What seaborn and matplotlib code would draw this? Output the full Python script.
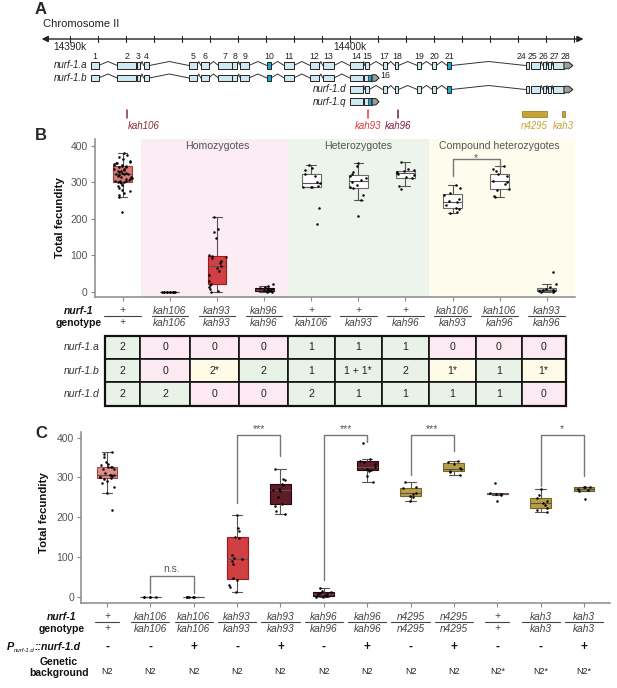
import numpy as np
import pandas as pd
import matplotlib
matplotlib.use("Agg")
import matplotlib.pyplot as plt
import seaborn as sns
from matplotlib.patches import Rectangle, Polygon, FancyArrowPatch
from matplotlib.transforms import blended_transform_factory

# ======================= DATA =======================
# ---- Panel A: nurf-1 gene model on chromosome II (positions in kb) ----
chrom_ticks_kb = list(range(14390, 14409))
chrom_tick_labels = {14390: "14390k", 14400: "14400k"}
chrom_span_kb = (14389.0, 14408.35)

exon_names = ["1", "2", "3", "4", "5", "6", "7", "8", "9", "10", "11", "12", "13",
              "14", "15", "17", "18", "19", "20", "21", "24", "25", "26", "27", "28"]
exon_start = [14390.75, 14391.70, 14392.40, 14392.64, 14394.26, 14394.68, 14395.31,
              14395.81, 14396.09, 14397.04, 14397.66, 14398.58, 14399.04, 14400.00,
              14400.53, 14401.18, 14401.61, 14402.41, 14402.95, 14403.48, 14406.28,
              14406.46, 14406.89, 14407.08, 14407.26]
exon_end = [14391.03, 14392.36, 14392.52, 14392.85, 14394.54, 14394.96, 14395.78,
            14395.98, 14396.40, 14397.19, 14398.00, 14398.90, 14399.44, 14400.48,
            14400.70, 14401.32, 14401.74, 14402.53, 14403.09, 14403.63, 14406.42,
            14406.80, 14407.01, 14407.20, 14407.65]
# where the exon numbers are printed (spread where exons are crowded)
exon_label_kb = [14390.89, 14392.03, 14392.46, 14392.75, 14394.40, 14394.82, 14395.55,
                 14395.90, 14396.25, 14397.12, 14397.83, 14398.74, 14399.24, 14400.22,
                 14400.62, 14401.25, 14401.68, 14402.47, 14403.02, 14403.56, 14406.13,
                 14406.53, 14406.92, 14407.30, 14407.69]
exon_blue = ["10", "21"]
exon15_alt = (14400.51, 14400.79)          # exon 15 of nurf-1.b / nurf-1.q
exon15_alt_blue = (14400.65, 14400.76)
exon16 = (14400.80, 14400.93, 14401.05)    # start, body end, tip
utr28 = (14407.65, 14407.83, 14407.97)     # start, body end, tip

isoform_names = ["nurf-1.a", "nurf-1.b", "nurf-1.d", "nurf-1.q"]
isoform_exons = [
    exon_names,
    exon_names[:14] + ["15b", "16"],
    exon_names[13:],
    ["14", "15b", "16"],
]

allele_names = ["kah106", "kah93", "kah96", "n4295", "kah3"]
allele_start = [14392.04, 14400.65, 14401.73, 14406.14, 14407.58]
allele_end = [14392.04, 14400.65, 14401.73, 14407.05, 14407.69]
allele_colors = ["#8e2a3a", "#e8343c", "#7d1d3c", "#c4a535", "#c4a535"]

# ---- Panel B: total fecundity by nurf-1 genotype ----
b_top = ["+", "kah106", "kah93", "kah96", "+", "+", "+", "kah106", "kah106", "kah93"]
b_bot = ["+", "kah106", "kah93", "kah96", "kah106", "kah93", "kah96", "kah93", "kah96", "kah96"]
b_values = [
    [380, 375, 370, 365, 360, 356, 354, 352, 350, 348, 347, 346, 345, 343, 341, 338, 336,
     334, 332, 330, 328, 326, 325, 324, 323, 322, 320, 318, 316, 314, 312, 310, 308, 306,
     305, 304, 303, 302, 301, 300, 298, 294, 290, 285, 280, 275, 270, 265, 260, 218],
    [0, 0, 0, 0, 0, 0, 0, 0, 0, 0, 0, 0],
    [205, 172, 165, 148, 100, 99, 96, 92, 85, 78, 70, 65, 58, 45, 30, 22, 18, 12, 8, 2, 0],
    [22, 15, 12, 10, 9, 8, 6, 5, 4, 3, 2, 1, 0, 0],
    [347, 340, 335, 322, 318, 300, 297, 290, 288, 287, 286, 230, 187],
    [352, 345, 328, 322, 318, 312, 306, 300, 292, 288, 285, 265, 251, 207],
    [356, 336, 333, 331, 328, 326, 324, 320, 314, 311, 290, 283],
    [292, 285, 272, 265, 255, 248, 245, 238, 230, 226, 220, 215],
    [344, 338, 330, 322, 318, 305, 300, 295, 283, 278, 263, 260],
    [55, 20, 12, 8, 5, 4, 2, 1, 0, 0],
]
b_fill = ["#ea6a64", "#eeeeee", "#e8282c", "#6c1022", "#ffffff", "#ffffff", "#ffffff",
          "#ffffff", "#ffffff", "#b5b5b5"]
b_edge = ["#a04040", "#777777", "#9e1a1d", "#2b0509", "#6a6a6a", "#6a6a6a", "#6a6a6a",
          "#6a6a6a", "#6a6a6a", "#6a6a6a"]
region_labels = ["Homozygotes", "Heterozygotes", "Compound heterozygotes"]
region_members = [[1, 2, 3], [4, 5, 6], [7, 8, 9]]
region_start = [0.38, 3.5, 6.5]
region_end = [3.5, 6.5, 9.6]
region_colors = ["#fcecf3", "#edf4ec", "#fefcec"]
b_sig = [(7, 8, "*", 364, 317, 343)]   # left, right, label, bar height, left leg end, right leg end

# copy number table under panel B
table_rows = ["nurf-1.a", "nurf-1.b", "nurf-1.d"]
table_vals = [
    ["2", "0", "0", "0", "1", "1", "1", "0", "0", "0"],
    ["2", "0", "2*", "2", "1", "1 + 1*", "2", "1*", "1", "1*"],
    ["2", "2", "0", "0", "2", "1", "1", "1", "1", "0"],
]
table_col_edges = [-0.37, 0.37, 1.43, 2.46, 3.5, 4.5, 5.5, 6.5, 7.5, 8.47, 9.4]
cell_green, cell_pink, cell_yellow = "#e9f2e6", "#fce9f1", "#fefce6"

# ---- Panel C: rescue with Pnurf-1.d::nurf-1.d ----
c_top = ["+", "kah106", "kah106", "kah93", "kah93", "kah96", "kah96", "n4295", "n4295", "+", "kah3", "kah3"]
c_bot = ["+", "kah106", "kah106", "kah93", "kah93", "kah96", "kah96", "n4295", "n4295", "+", "kah3", "kah3"]
c_transgene = ["-", "-", "+", "-", "+", "-", "+", "-", "+", "-", "-", "+"]
c_background = ["N2", "N2", "N2", "N2", "N2", "N2", "N2", "N2", "N2", "N2*", "N2*", "N2*"]
c_values = [
    [365, 358, 352, 340, 335, 330, 327, 326, 325, 322, 320, 306, 310, 307, 305, 303, 302,
     300, 298, 295, 290, 287, 275, 262, 218],
    [0, 0, 0, 0, 0],
    [0, 0, 0, 0, 0, 0],
    [205, 173, 165, 150, 148, 105, 98, 95, 90, 82, 47, 42, 30, 25, 13],
    [321, 297, 293, 283, 280, 270, 268, 265, 250, 232, 228, 215, 207],
    [22, 15, 12, 10, 8, 6, 5, 3, 2, 0, 0],
    [386, 346, 342, 340, 333, 327, 322, 319, 316, 303, 288],
    [288, 276, 274, 262, 258, 254, 252, 240],
    [341, 338, 335, 324, 320, 316, 314, 307],
    [287, 260, 259, 258, 257, 240],
    [272, 255, 248, 240, 235, 230, 222, 218, 212],
    [277, 276, 275, 270, 268, 266, 245],
]
c_fill = ["#ee7e77", "#eeeeee", "#eeeeee", "#e8282c", "#6c1022", "#6c1022", "#6c1022",
          "#c9aa36", "#c9aa36", "#a86a6a", "#c9aa36", "#b39a3a"]
c_edge = ["#a04a4a", "#777777", "#777777", "#9e1a1d", "#2b0509", "#2b0509", "#2b0509",
          "#7a6420", "#7a6420", "#8a4f4f", "#7a6420", "#6f5e22"]
c_sig = [(1, 2, "n.s.", 53, 10, 10), (3, 4, "***", 407, 235, 355), (5, 6, "***", 407, 43, 388),
         (7, 8, "***", 407, 305, 367), (10, 11, "*", 407, 278, 303)]

# ======================= FIGURE =======================
sns.set_theme(style="white")
plt.rcParams["font.family"] = ["Liberation Sans", "DejaVu Sans"]
np.random.seed(3)

W, H = 617, 688
fig = plt.figure(figsize=(W / 100, H / 100), dpi=100)
fig.patch.set_facecolor("white")


def fx(p):
    return p / W


def fy(p):
    return 1 - p / H


def add_ax(x0, y0, x1, y1):
    return fig.add_axes([x0 / W, 1 - y1 / H, (x1 - x0) / W, (y1 - y0) / H])


GREY = "#555555"

# ----------------------- Panel A -----------------------
fig.text(fx(35), fy(10), "A", fontsize=12, fontweight="bold", va="center", ha="left")
fig.text(fx(43), fy(24), "Chromosome II", fontsize=8, va="center", ha="left", color="#222")

axA = add_ax(0, 0, W, 135)
axA.set_xlim(14390 + (0 - 69.7) / 28.0, 14390 + (W - 69.7) / 28.0)
axA.set_ylim(135, 0)
axA.axis("off")

y_chr = 39
axA.add_patch(FancyArrowPatch((chrom_span_kb[0], y_chr), (chrom_span_kb[1], y_chr),
                              arrowstyle="<|-|>", mutation_scale=9, color="#222", lw=1.0,
                              shrinkA=0, shrinkB=0))
for t in chrom_ticks_kb:
    axA.plot([t, t], [y_chr - 3, y_chr + 3], color="#222", lw=0.8)
    if t in chrom_tick_labels:
        axA.text(t, 46.8, chrom_tick_labels[t], ha="center", va="center", fontsize=7.2, color="#222")

for name, xl in zip(exon_names, exon_label_kb):
    axA.text(xl, 56.5, name, ha="center", va="center", fontsize=6.3, color="#222")

LIGHT = "#cfe9f2"
BLUE = "#1ea4cf"
EDGE = "#222222"
row_y = [65.5, 78, 89.5, 101.7]
hb = 6.5


def pentagon(x0, x1, tip, y, fc):
    return Polygon([(x0, y - hb / 2), (x1, y - hb / 2), (tip, y), (x1, y + hb / 2), (x0, y + hb / 2)],
                   closed=True, fc=fc, ec=EDGE, lw=0.7, zorder=3)


for iso, exons, y in zip(isoform_names, isoform_exons, row_y):
    segs = []
    for e in exons:
        if e == "15b":
            segs.append(exon15_alt)
        elif e == "16":
            segs.append((exon16[0], exon16[2]))
        else:
            i = exon_names.index(e)
            segs.append((exon_start[i], utr28[2] if e == "28" else exon_end[i]))
    for (s0, e0), (s1, e1) in zip(segs[:-1], segs[1:]):
        if s1 - e0 > 0.05:
            axA.plot([e0, (e0 + s1) / 2, s1], [y, y - 4, y], color="#333", lw=0.7, zorder=1)
    for e, (s, en) in zip(exons, segs):
        if e == "16":
            axA.add_patch(pentagon(exon16[0], exon16[1], exon16[2], y, "#9c9c9c"))
        elif e == "15b":
            axA.add_patch(Rectangle((s, y - hb / 2), en - s, hb, fc=LIGHT, ec=EDGE, lw=0.7, zorder=3))
            axA.add_patch(Rectangle((exon15_alt_blue[0], y - hb / 2), exon15_alt_blue[1] - exon15_alt_blue[0],
                                    hb, fc=BLUE, ec=EDGE, lw=0.5, zorder=3))
        elif e == "28":
            i = exon_names.index(e)
            axA.add_patch(Rectangle((s, y - hb / 2), exon_end[i] - s, hb, fc=LIGHT, ec=EDGE, lw=0.7, zorder=3))
            axA.add_patch(pentagon(utr28[0], utr28[1], utr28[2], y, "#9c9c9c"))
        else:
            fc = BLUE if e in exon_blue else LIGHT
            axA.add_patch(Rectangle((s, y - hb / 2), en - s, hb, fc=fc, ec=EDGE, lw=0.7, zorder=3))
    axA.text(segs[0][0] - 0.13, y, iso, ha="right", va="center", fontsize=7, style="italic", color="#222")
    if iso == "nurf-1.b":
        axA.text(exon16[2] + 0.05, y - 2.5, "16", ha="left", va="center", fontsize=6.3, color="#222")

for name, s, e, col in zip(allele_names, allele_start, allele_end, allele_colors):
    if e - s < 0.01:
        axA.plot([s, s], [110, 118], color=col, lw=1.1)
        xc = s
    else:
        axA.add_patch(Rectangle((s, 110.5), e - s, 6.5, fc=col, ec="#8a7322", lw=0.5))
        xc = (s + e) / 2
    if name == "kah106":
        axA.text(s + 0.03, 126, name, ha="left", va="center", fontsize=7, style="italic", color=col)
    else:
        axA.text(xc, 126, name, ha="center", va="center", fontsize=7, style="italic", color=col)


def long_df(values):
    rows = [(str(i), v) for i, vals in enumerate(values) for v in vals]
    return pd.DataFrame(rows, columns=["grp", "fecundity"])


def draw_boxes(ax, values, fills, edges, width, jitter):
    df = long_df(values)
    order = [str(i) for i in range(len(values))]
    n0 = len(ax.patches)
    sns.boxplot(data=df, x="grp", y="fecundity", order=order, hue="grp", hue_order=order,
                palette=fills, legend=False, width=width, showfliers=False, linewidth=0.8,
                linecolor="#555555", ax=ax, zorder=2)
    for p, ec in zip(ax.patches[n0:], edges):
        p.set_edgecolor(ec)
    sns.stripplot(data=df, x="grp", y="fecundity", order=order, color="black", size=1.8,
                  jitter=jitter, linewidth=0, ax=ax, zorder=4)


def style_axis(ax, n, ylim):
    ax.set_xlim(-0.6, n - 0.4)
    ax.set_ylim(*ylim)
    ax.set_xlabel("")
    ax.set_xticks(range(n))
    ax.set_xticklabels([])
    ax.set_yticks([0, 100, 200, 300, 400])
    ax.set_yticklabels(["0", "100", "200", "300", "400"], fontsize=7.5, color=GREY)
    for sp in ["top", "right"]:
        ax.spines[sp].set_visible(False)
    for sp in ["left", "bottom"]:
        ax.spines[sp].set_color("#8a8a8a")
        ax.spines[sp].set_linewidth(1.1)
    ax.tick_params(axis="both", which="both", length=3, width=0.8, color="#8a8a8a", pad=2,
                   bottom=True, left=True)
    ax.set_facecolor("white")
    ax.grid(False)


# ----------------------- Panel B -----------------------
fig.text(fx(35), fy(136), "B", fontsize=12, fontweight="bold", va="center", ha="left")
axB = add_ax(94.5, 139, 575, 296.7)
draw_boxes(axB, b_values, b_fill, b_edge, 0.4, 0.2)
for s, e, c in zip(region_start, region_end, region_colors):
    axB.axvspan(s, e, color=c, zorder=0, lw=0)
style_axis(axB, len(b_values), (-13.7, 419))
for lab, mem in zip(region_labels, region_members):
    axB.text(np.mean(mem), 399, lab, ha="center", va="center", fontsize=7.6, color=GREY)
for l, r, lab, yb, yl, yr in b_sig:
    axB.plot([l, l, r, r], [yl, yb, yb, yr], color="#777", lw=1.0, zorder=3)
    axB.text((l + r) / 2, yb + 4, lab, ha="center", va="center", fontsize=7.5, color=GREY)
axB.set_ylabel("Total fecundity", fontsize=8.2, fontweight="bold", color="#111")
axB.yaxis.set_label_coords((65 - 94.5) / 480.5, 0.5)

trB = blended_transform_factory(axB.transData, fig.transFigure)
for i, (t, b) in enumerate(zip(b_top, b_bot)):
    axB.text(i, fy(310.5), t, transform=trB, ha="center", va="center", fontsize=7.3,
             style="italic", color="#444")
    axB.text(i, fy(322.5), b, transform=trB, ha="center", va="center", fontsize=7.3,
             style="italic", color="#444")
    axB.plot([i - 0.39, i + 0.39], [fy(316)] * 2, transform=trB, clip_on=False, color="#444", lw=0.8)
fig.text(fx(79), fy(310.5), "nurf-1", ha="center", va="center", fontsize=7.5,
         fontweight="bold", style="italic", color="#111")
fig.text(fx(79), fy(323), "genotype", ha="center", va="center", fontsize=7.5,
         fontweight="bold", color="#111")

# copy-number table
axT = add_ax(94.5, 335.7, 575, 405.7)
axT.set_xlim(-0.6, len(b_values) - 0.4)
axT.set_ylim(len(table_rows), 0)
axT.axis("off")
for r, (rname, vals) in enumerate(zip(table_rows, table_vals)):
    for c, v in enumerate(vals):
        if v == "0":
            col = cell_pink
        elif "*" in v and "+" not in v:
            col = cell_yellow
        else:
            col = cell_green
        x0, x1 = table_col_edges[c], table_col_edges[c + 1]
        axT.add_patch(Rectangle((x0, r), x1 - x0, 1, fc=col, ec="#111", lw=1.2, clip_on=False))
        axT.text((x0 + x1) / 2, r + 0.5, v, ha="center", va="center", fontsize=7.6, color="#222")
    axT.text(table_col_edges[0] - 0.13, r + 0.5, rname, ha="right", va="center", fontsize=7.5,
             style="italic", color="#333")
axT.add_patch(Rectangle((table_col_edges[0], 0), table_col_edges[-1] - table_col_edges[0],
                        len(table_rows), fc="none", ec="#111", lw=1.6, clip_on=False))

# ----------------------- Panel C -----------------------
fig.text(fx(35), fy(434), "C", fontsize=12, fontweight="bold", va="center", ha="left")
axC = add_ax(81, 431.7, 610, 603)
draw_boxes(axC, c_values, c_fill, c_edge, 0.48, 0.18)
style_axis(axC, len(c_values), (-15.8, 415))
for l, r, lab, yb, yl, yr in c_sig:
    axC.plot([l, l, r, r], [yl, yb, yb, yr], color="#777", lw=1.0, zorder=3, clip_on=False)
    axC.text((l + r) / 2, yb + 3, lab, ha="center", va="bottom", fontsize=7.5, color=GREY,
             clip_on=False)
axC.set_ylabel("Total fecundity", fontsize=8.2, fontweight="bold", color="#111")
axC.yaxis.set_label_coords((49 - 81) / 529, 0.53)

trC = blended_transform_factory(axC.transData, fig.transFigure)
for i, (t, b, tg, bg) in enumerate(zip(c_top, c_bot, c_transgene, c_background)):
    axC.text(i, fy(616.5), t, transform=trC, ha="center", va="center", fontsize=7.3,
             style="italic", color="#444")
    axC.text(i, fy(628.5), b, transform=trC, ha="center", va="center", fontsize=7.3,
             style="italic", color="#444")
    hw = 0.28 if t == "+" else 0.44
    axC.plot([i - hw, i + hw], [fy(621.5)] * 2, transform=trC, clip_on=False, color="#444", lw=0.8)
    axC.text(i, fy(647), tg, transform=trC, ha="center", va="center", fontsize=8.5,
             fontweight="bold", color="#111")
    axC.text(i, fy(671.5), bg, transform=trC, ha="center", va="center", fontsize=6.4, color="#222")

fig.text(fx(62), fy(616.5), "nurf-1", ha="center", va="center", fontsize=7.5,
         fontweight="bold", style="italic", color="#111")
fig.text(fx(62), fy(629), "genotype", ha="center", va="center", fontsize=7.5,
         fontweight="bold", color="#111")
fig.text(fx(7), fy(647), "P", ha="left", va="center", fontsize=7.8, fontweight="bold",
         style="italic", color="#111")
fig.text(fx(13.5), fy(650), "nurf-1.d", ha="left", va="center", fontsize=4.3,
         style="italic", color="#111")
fig.text(fx(34.5), fy(647), "::nurf-1.d", ha="left", va="center", fontsize=7.6,
         fontweight="bold", style="italic", color="#111")
fig.text(fx(59), fy(661.7), "Genetic", ha="center", va="center", fontsize=7.5,
         fontweight="bold", color="#111")
fig.text(fx(59), fy(673.5), "background", ha="center", va="center", fontsize=7.5,
         fontweight="bold", color="#111")

fig.savefig("out.png", dpi=100, facecolor="white")
